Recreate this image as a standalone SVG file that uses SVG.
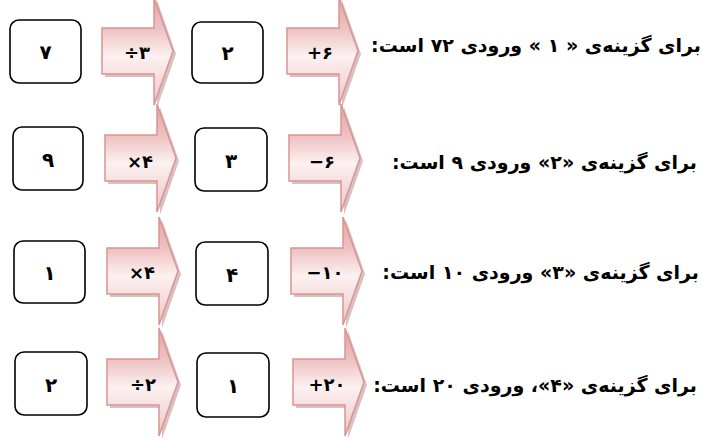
<svg xmlns="http://www.w3.org/2000/svg" xmlns:xlink="http://www.w3.org/1999/xlink" width="702" height="438" viewBox="0 0 702 438">
<style>
.box{fill:#fff;stroke:#000;stroke-width:1.6}
.arr{fill:url(#g);stroke:#d99594;stroke-width:1.5}
.sh{fill:#b88e8e;opacity:0.55}
.num{font-family:"DejaVu Sans",sans-serif;font-weight:bold;font-size:20px;fill:#000;text-anchor:middle}
.op{font-family:"DejaVu Sans",sans-serif;font-weight:bold;font-size:18px;fill:#000;text-anchor:middle}
.lbl{font-family:"DejaVu Sans",sans-serif;font-weight:bold;font-size:19px;fill:#000}
</style>
<defs>
<linearGradient id="g" gradientUnits="userSpaceOnUse" x1="0" y1="-54" x2="0" y2="54">
<stop offset="0" stop-color="#e4a4a4"/>
<stop offset="0.3" stop-color="#efc2c2"/>
<stop offset="0.55" stop-color="#fcf1f1"/>
<stop offset="1" stop-color="#eec3c3"/>
</linearGradient>
<path id="ap" d="M0,-23 H52 V-54 L71,0 L52,54 V23 H0 Z"/>
</defs>
<g id="row1">
<g id="n1a"><rect class="box" x="10" y="20" width="71" height="63" rx="9"/><text class="num" x="45.5" y="59">۷</text></g>
<g id="a1a"><use xlink:href="#ap" class="sh" transform="translate(105,54)"/><use xlink:href="#ap" class="arr" transform="translate(102,51)"/><text class="op" x="137" y="59">÷۳</text></g>
<g id="n1b"><rect class="box" x="192" y="22" width="71" height="61" rx="9"/><text class="num" x="227.5" y="60">۲</text></g>
<g id="a1b"><use xlink:href="#ap" class="sh" transform="translate(290,54)"/><use xlink:href="#ap" class="arr" transform="translate(287,51)"/><text class="op" x="320" y="59">+۶</text></g>
<text class="lbl" x="701" y="52" direction="rtl" text-anchor="start">برای گزینه‌ی « ۱ » ورودی ۷۲ است:</text>
</g>
<g id="row2">
<g id="n2a"><rect class="box" x="13" y="127" width="70" height="63" rx="9"/><text class="num" x="48" y="167">۹</text></g>
<g id="a2a"><use xlink:href="#ap" class="sh" transform="translate(108,161)"/><use xlink:href="#ap" class="arr" transform="translate(105,158)"/><text class="op" x="140" y="168">×۴</text></g>
<g id="n2b"><rect class="box" x="195" y="128" width="72" height="63" rx="9"/><text class="num" x="231" y="168">۳</text></g>
<g id="a2b"><use xlink:href="#ap" class="sh" transform="translate(292,161)"/><use xlink:href="#ap" class="arr" transform="translate(289,158)"/><text class="op" x="322" y="168">−۶</text></g>
<text class="lbl" x="697" y="169" direction="rtl" text-anchor="start">برای گزینه‌ی «۲» ورودی ۹ است:</text>
</g>
<g id="row3">
<g id="n3a"><rect class="box" x="14" y="241" width="71" height="62" rx="9"/><text class="num" x="49.5" y="280">۱</text></g>
<g id="a3a"><use xlink:href="#ap" class="sh" transform="translate(110,274)"/><use xlink:href="#ap" class="arr" transform="translate(107,271)"/><text class="op" x="142" y="279">×۴</text></g>
<g id="n3b"><rect class="box" x="196" y="242" width="72" height="63" rx="9"/><text class="num" x="232" y="282">۴</text></g>
<g id="a3b"><use xlink:href="#ap" class="sh" transform="translate(294,274)"/><use xlink:href="#ap" class="arr" transform="translate(291,271)"/><text class="op" x="325" y="279">−۱۰</text></g>
<text class="lbl" x="699" y="279" direction="rtl" text-anchor="start">برای گزینه‌ی «۳» ورودی  ۱۰ است:</text>
</g>
<g id="row4">
<g id="n4a"><rect class="box" x="15" y="352" width="72" height="63" rx="9"/><text class="num" x="51" y="392">۲</text></g>
<g id="a4a"><use xlink:href="#ap" class="sh" transform="translate(110,385)"/><use xlink:href="#ap" class="arr" transform="translate(107,382)"/><text class="op" x="143" y="391">÷۲</text></g>
<g id="n4b"><rect class="box" x="197" y="353" width="72" height="64" rx="9"/><text class="num" x="233" y="393">۱</text></g>
<g id="a4b"><use xlink:href="#ap" class="sh" transform="translate(296,385)"/><use xlink:href="#ap" class="arr" transform="translate(293,382)"/><text class="op" x="327" y="391">+۲۰</text></g>
<text class="lbl" x="697" y="392" direction="rtl" text-anchor="start">برای گزینه‌ی «۴»، ورودی  ۲۰ است:</text>
</g>
<g id="connectors"></g>
</svg>
